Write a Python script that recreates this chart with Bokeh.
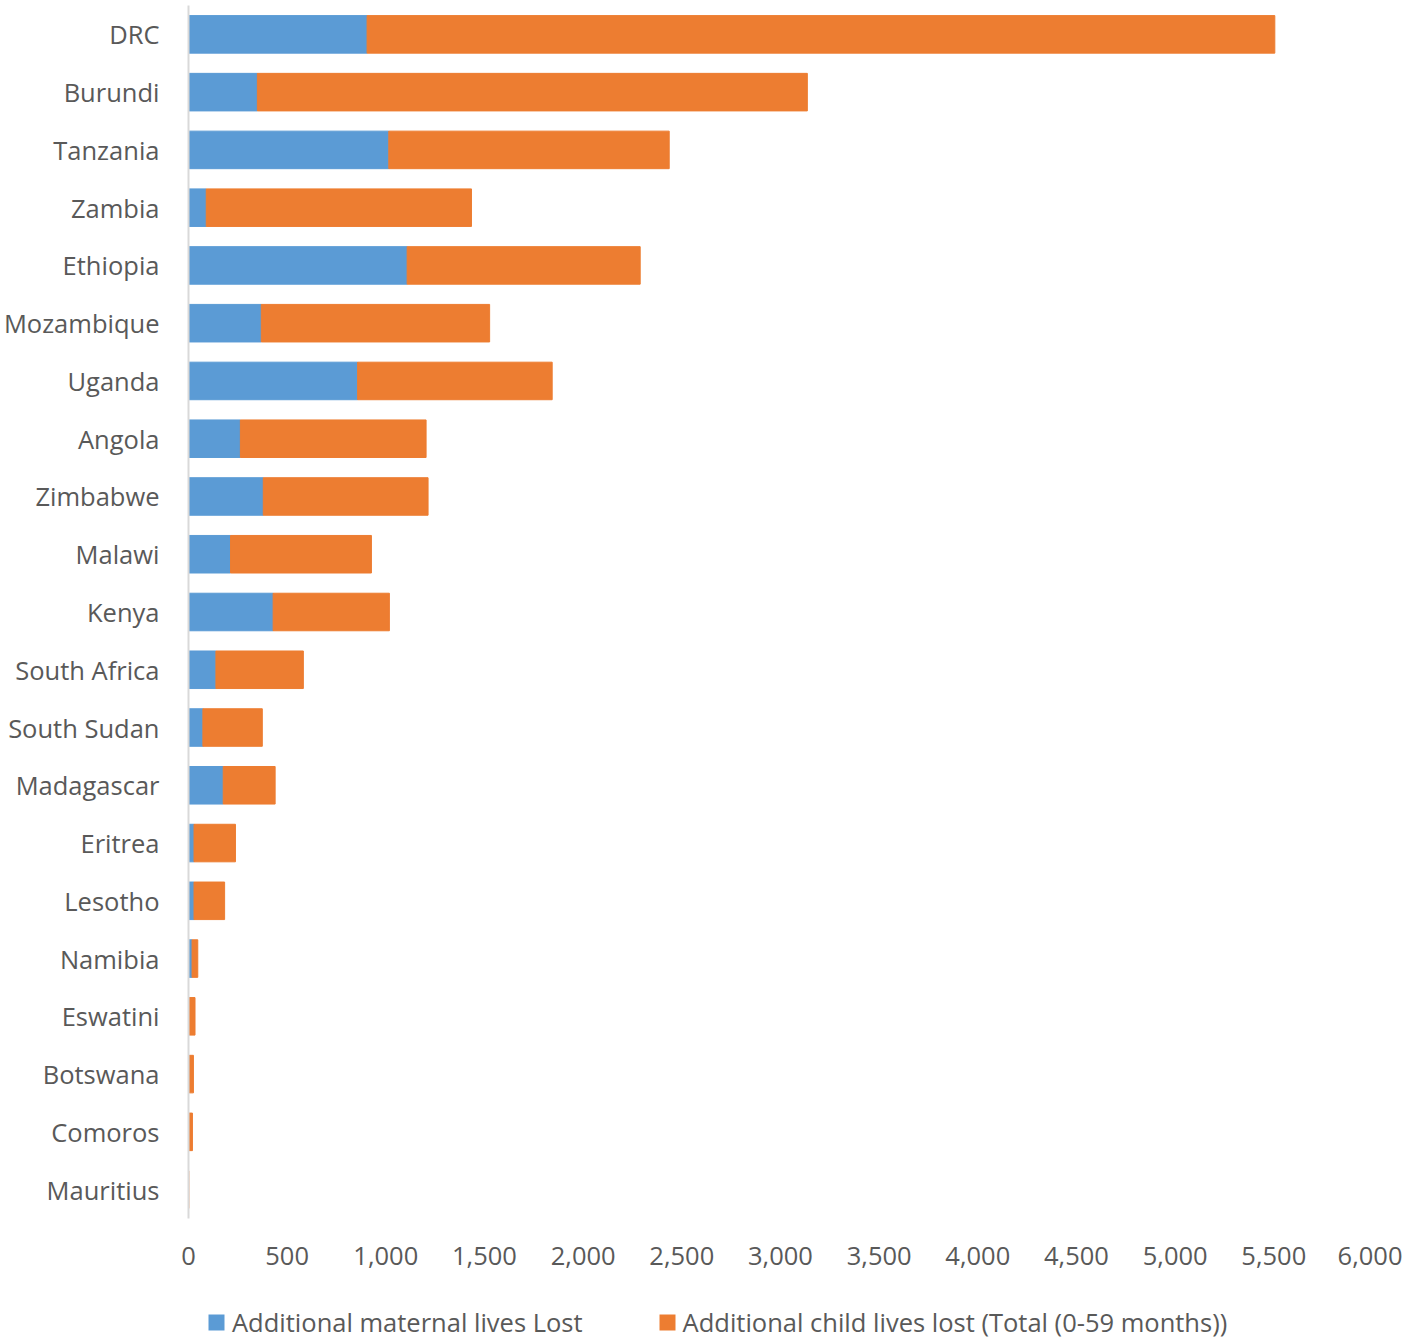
from bokeh.plotting import figure
from bokeh.layouts import column
from bokeh.models import (FactorRange, Range1d, FixedTicker, NumeralTickFormatter,
                          Legend, LegendItem, ColumnDataSource)
from bokeh.embed import file_html
from bokeh.resources import INLINE

countries = ["DRC", "Burundi", "Tanzania", "Zambia", "Ethiopia", "Mozambique", "Uganda",
             "Angola", "Zimbabwe", "Malawi", "Kenya", "South Africa", "South Sudan",
             "Madagascar", "Eritrea", "Lesotho", "Namibia", "Eswatini", "Botswana",
             "Comoros", "Mauritius"]
maternal = [905, 349, 1015, 90, 1108, 369, 857, 263, 379, 213, 429, 139, 73, 176, 28, 28,
            18, 5, 4, 2, 0.3]
child = [4600, 2787, 1421, 1344, 1181, 1157, 986, 941, 835, 714, 589, 443, 301, 263, 210,
         155, 29, 28, 21, 18, 1]
x_ticks = [0, 500, 1000, 1500, 2000, 2500, 3000, 3500, 4000, 4500, 5000, 5500, 6000]
series_labels = ["Additional maternal lives Lost",
                 "Additional child lives lost (Total (0-59 months))"]
colors = ["#5B9BD5", "#ED7D31"]

FONT = "Open Sans"
TXT = "#595959"
FS = "25.5px"

src = ColumnDataSource(dict(country=countries, maternal=maternal, child=child))

# main chart
p = figure(y_range=FactorRange(factors=countries[::-1], range_padding=0),
           x_range=Range1d(0, 6000),
           width=1402, height=1281,
           min_border_left=180, min_border_right=30, min_border_top=5, min_border_bottom=63,
           output_backend="svg", toolbar_location=None)

p.hbar_stack(["maternal", "child"], y="country", height=0.65, color=colors, source=src)

p.xgrid.visible = False
p.ygrid.visible = False
p.outline_line_color = None

xa = p.xaxis[0]
xa.ticker = FixedTicker(ticks=x_ticks)
xa.formatter = NumeralTickFormatter(format="0,0")
xa.axis_line_color = None
xa.major_tick_line_color = None
xa.minor_tick_line_color = None
xa.major_tick_out = 0
xa.major_label_text_font = FONT
xa.major_label_text_font_size = FS
xa.major_label_text_color = TXT
xa.major_label_standoff = 28

ya = p.yaxis[0]
ya.axis_line_color = "#D9D9D9"
ya.axis_line_width = 2
ya.major_tick_line_color = None
ya.minor_tick_line_color = None
ya.major_label_text_font = FONT
ya.major_label_text_font_size = FS
ya.major_label_text_color = TXT
ya.major_label_standoff = 23

# legend strip: same stacked series as zero-height bars out of view, only the legend shows
pl = figure(y_range=FactorRange(factors=countries[::-1]),
            x_range=Range1d(-2000, -1000),
            width=1402, height=61,
            x_axis_location=None, y_axis_location=None,
            min_border_left=0, min_border_right=0, min_border_top=0, min_border_bottom=0,
            output_backend="svg", toolbar_location=None)
pl.xgrid.visible = False
pl.ygrid.visible = False
pl.outline_line_color = None
rl = pl.hbar_stack(["maternal", "child"], y="country", height=0, fill_color=colors,
                   line_alpha=0, source=src)

legend = Legend(items=[LegendItem(label=series_labels[0], renderers=[rl[0]]),
                       LegendItem(label=series_labels[1], renderers=[rl[1]])],
                orientation="horizontal", location=(18, 3),
                label_text_font=FONT, label_text_font_size=FS, label_text_color=TXT,
                glyph_width=20, glyph_height=20, label_standoff=6, spacing=74,
                border_line_color=None, background_fill_alpha=0,
                padding=0, margin=0)
pl.add_layout(legend, "center")

layout = column(p, pl, spacing=0)
open("out.html", "w").write(file_html(layout, INLINE))
